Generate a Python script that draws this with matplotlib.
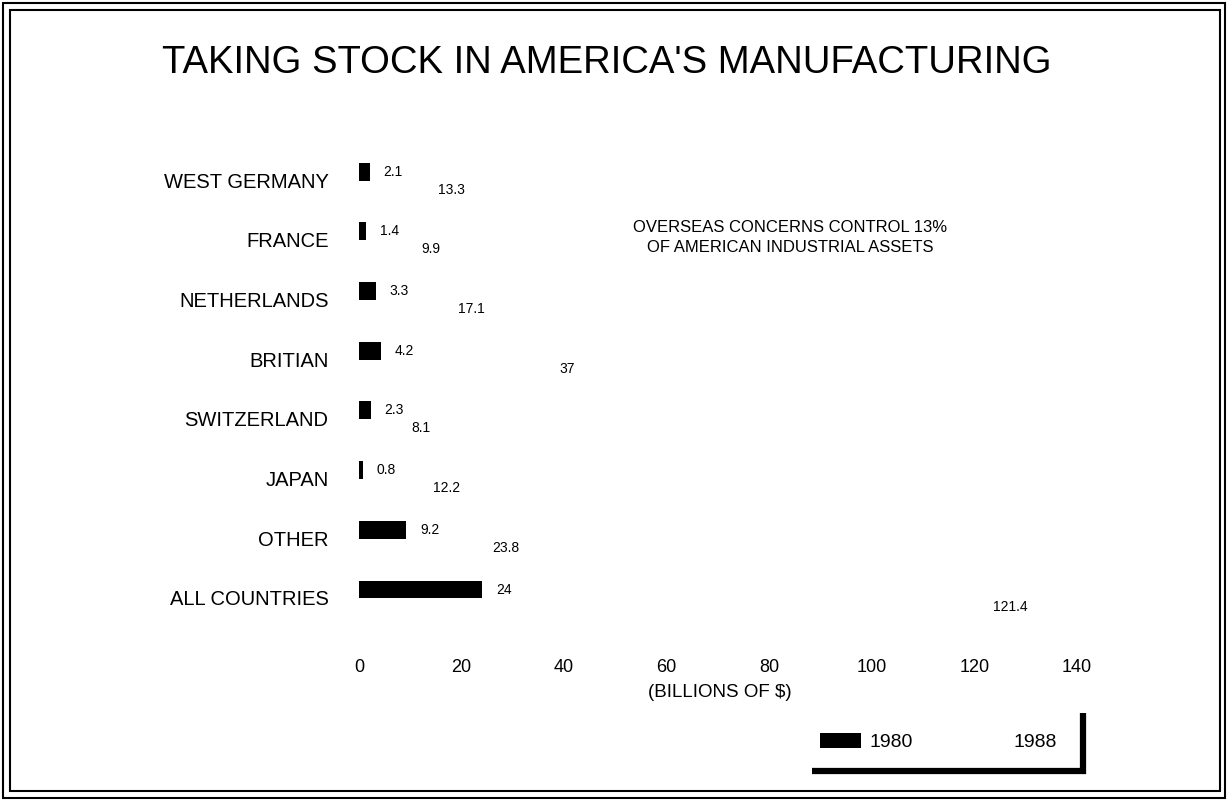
import matplotlib
matplotlib.use("Agg")
import matplotlib.pyplot as plt
from matplotlib.patches import Rectangle
from matplotlib.lines import Line2D
import numpy as np

plt.rcParams['font.family'] = ['Liberation Sans', 'DejaVu Sans']

countries = ["WEST GERMANY", "FRANCE", "NETHERLANDS", "BRITIAN",
             "SWITZERLAND", "JAPAN", "OTHER", "ALL COUNTRIES"]
v1980 = [2.1, 1.4, 3.3, 4.2, 2.3, 0.8, 9.2, 24]
v1988 = [13.3, 9.9, 17.1, 37, 8.1, 12.2, 23.8, 121.4]
lab1980 = ["2.1", "1.4", "3.3", "4.2", "2.3", "0.8", "9.2", "24"]
lab1988 = ["13.3", "9.9", "17.1", "37", "8.1", "12.2", "23.8", "121.4"]
xticks = [0, 20, 40, 60, 80, 100, 120, 140]

W, H = 1228, 801
fig = plt.figure(figsize=(W / 100, H / 100), dpi=100)

# axes placed in pixel terms: x=0 at 359px, x=140 at 1077px
# row i centre at 180 + 59.7*i px
ymin, ymax = -0.7, 7.6
top_px = 180 + 59.7 * ymin
bot_px = 180 + 59.7 * ymax
ax = fig.add_axes([359 / W, 1 - bot_px / H, (1077 - 359) / W, (bot_px - top_px) / H])
ax.set_xlim(0, 140)
ax.set_ylim(ymax, ymin)

y = np.arange(len(countries))
b80 = ax.barh(y - 0.14, v1980, height=0.30, color="black", label="1980")
b88 = ax.barh(y + 0.16, v1988, height=0.30, color="white", label="1988")

for rect, txt in zip(b80, lab1980):
    ax.annotate(txt, (rect.get_width(), rect.get_y() + rect.get_height() / 2),
                xytext=(10, 0), textcoords="offset points", va="center",
                ha="left", fontsize=10)
for rect, txt in zip(b88, lab1988):
    ax.annotate(txt, (rect.get_width(), rect.get_y() + rect.get_height() / 2),
                xytext=(8, 0), textcoords="offset points", va="center",
                ha="left", fontsize=10)

for s in ax.spines.values():
    s.set_visible(False)
ax.set_yticks(y)
ax.set_yticklabels(countries, fontsize=14.5)
ax.set_xticks(xticks)
ax.set_xticklabels([str(t) for t in xticks], fontsize=13)
ax.tick_params(axis="y", length=0, pad=22)
ax.tick_params(axis="x", length=0, pad=18)
ax.set_xlabel("(BILLIONS OF $)", fontsize=13.5, labelpad=4)
ax.xaxis.set_label_coords((720 - 359) / (1077 - 359), -(684 - bot_px) / (bot_px - top_px))

fig.text(790 / W, 1 - 228 / H, "OVERSEAS CONCERNS CONTROL 13%",
         ha="center", va="center", fontsize=12)
fig.text(790 / W, 1 - 248 / H, "OF AMERICAN INDUSTRIAL ASSETS",
         ha="center", va="center", fontsize=12)

fig.text(607 / W, 1 - 63 / H, "TAKING STOCK IN AMERICA'S MANUFACTURING",
         ha="center", va="center", fontsize=27.5)

# legend
fig.legend(handles=[b80, b88], loc="center left",
           bbox_to_anchor=(820 / W, 1 - 742 / H), ncol=2, frameon=False,
           fontsize=14, handlelength=2.1, handleheight=0.8,
           handletextpad=0.45, columnspacing=2.6, borderpad=0, borderaxespad=0)
fig.add_artist(Line2D([812 / W, 1086 / W], [1 - 771 / H, 1 - 771 / H],
                      transform=fig.transFigure, color="black", lw=4.5,
                      solid_capstyle="butt"))
fig.add_artist(Line2D([1083 / W, 1083 / W], [1 - 713 / H, 1 - 774 / H],
                      transform=fig.transFigure, color="black", lw=4.5,
                      solid_capstyle="butt"))

# double frame
fig.add_artist(Rectangle((3 / W, 3 / H), 1222 / W, 795 / H, transform=fig.transFigure,
                         fill=False, ec="black", lw=1.5))
fig.add_artist(Rectangle((10 / W, 10 / H), 1210 / W, 781 / H, transform=fig.transFigure,
                         fill=False, ec="black", lw=1.5))

fig.savefig("out.png", dpi=100)
